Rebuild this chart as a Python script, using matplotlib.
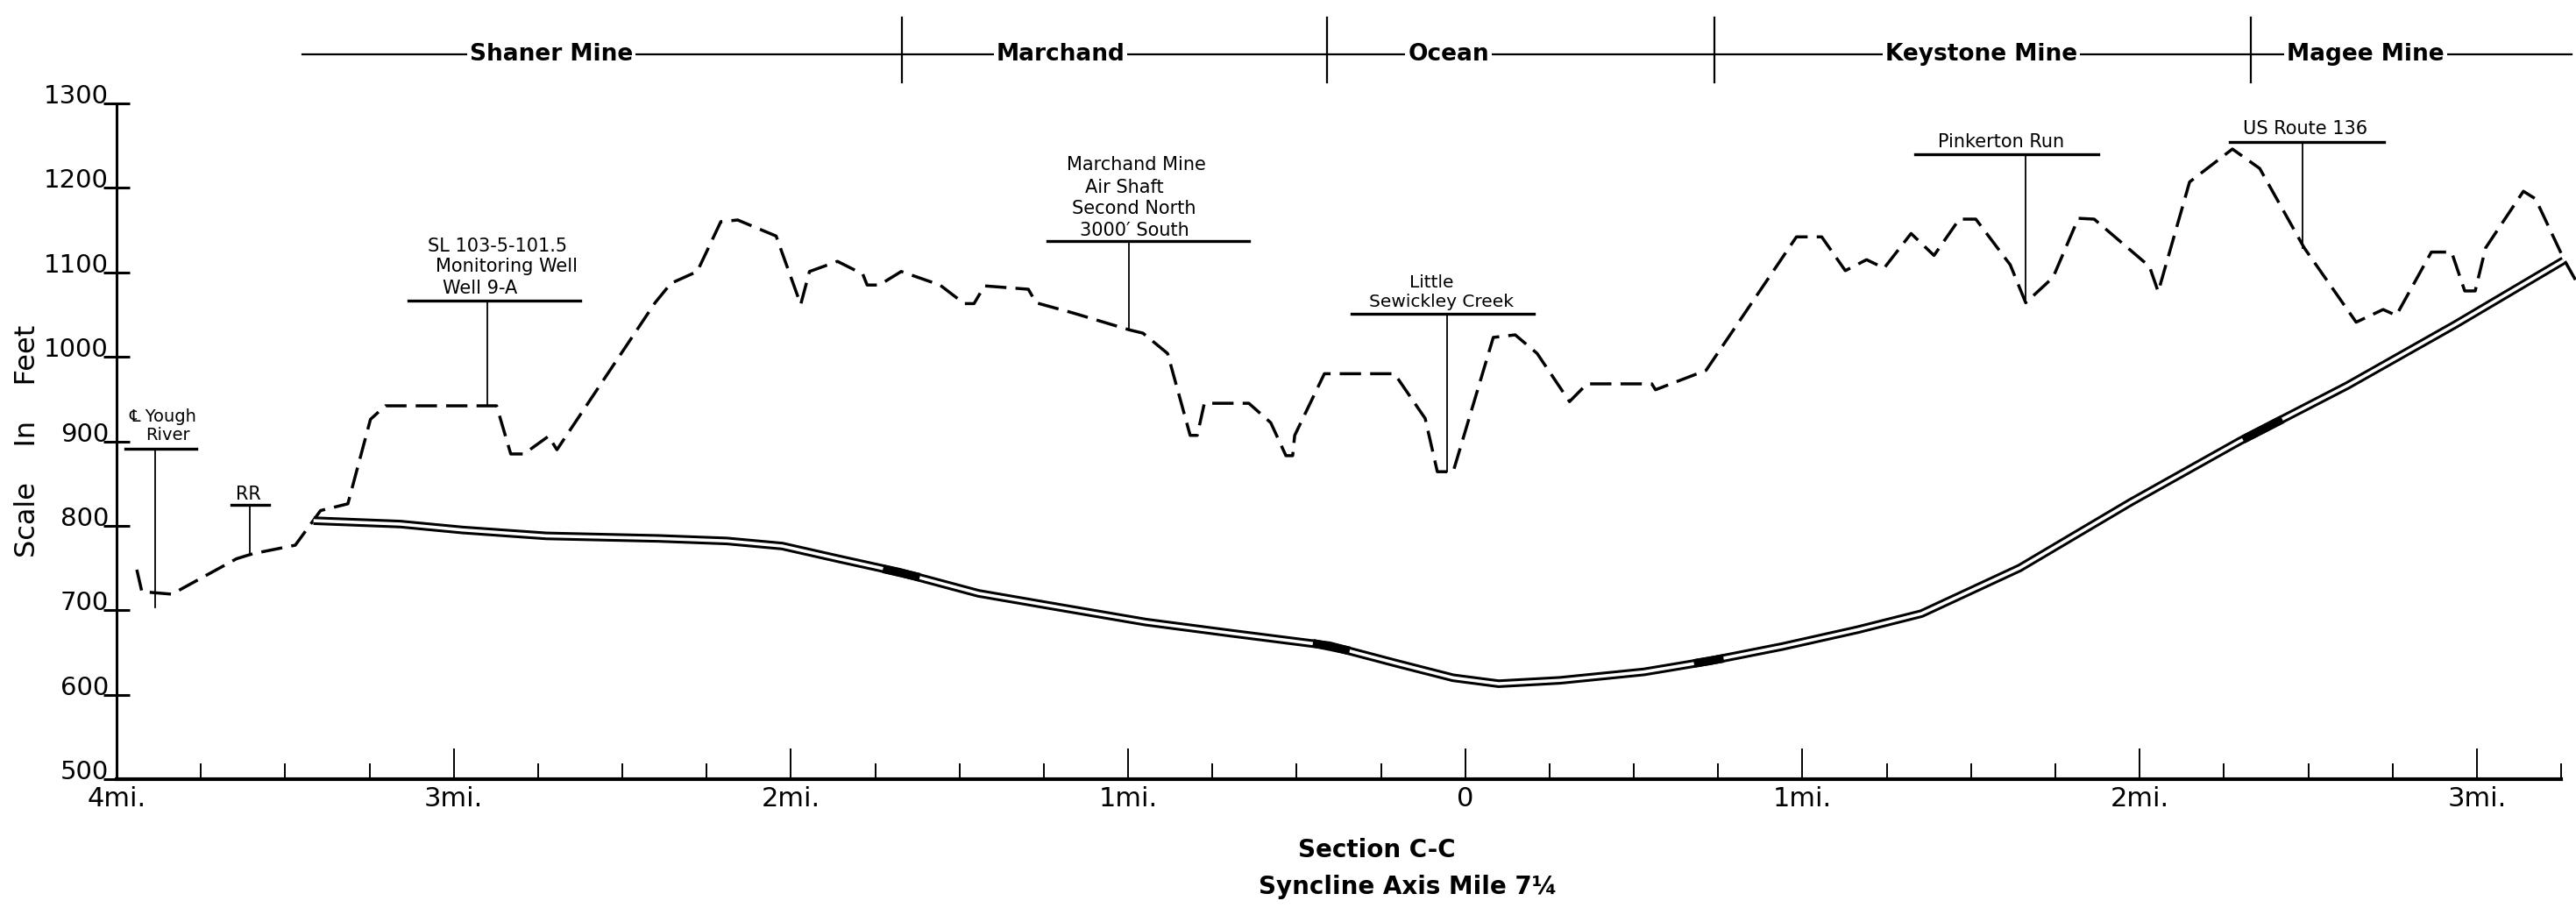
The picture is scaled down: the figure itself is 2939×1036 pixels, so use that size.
import matplotlib
matplotlib.use("Agg")
import matplotlib.pyplot as plt
from matplotlib.ticker import MultipleLocator

plt.rcParams['font.family'] = ['DejaVu Sans']

# ground surface along section C-C (miles from syncline axis, west negative; elevation in feet)
ground_mi = [-3.940, -3.925, -3.836, -3.644, -3.595, -3.470, -3.395, -3.314, -3.247, -3.203,
             -2.873, -2.831, -2.792, -2.719, -2.694, -2.403, -2.356, -2.278, -2.208, -2.158,
             -2.044, -1.971, -1.945, -1.862, -1.787, -1.774, -1.738, -1.673, -1.558, -1.486,
             -1.457, -1.426, -1.296, -1.273, -1.164, -0.997, -0.956, -0.883, -0.816, -0.795,
             -0.774, -0.642, -0.577, -0.532, -0.512, -0.506, -0.418, -0.210, -0.119, -0.083,
             -0.036, 0.083, 0.148, 0.213, 0.309, 0.361, 0.553, 0.564, 0.714, 0.982,
             1.057, 1.127, 1.190, 1.242, 1.322, 1.390, 1.465, 1.514, 1.616, 1.662,
             1.743, 1.818, 1.865, 2.029, 2.055, 2.148, 2.275, 2.356, 2.488, 2.642,
             2.722, 2.761, 2.865, 2.925, 2.964, 2.995, 3.026, 3.138, 3.174, 3.260, 3.294]
ground_ft = [748, 722, 719, 761, 767, 777, 818, 826, 926, 942,
             942, 885, 885, 906, 890, 1064, 1087, 1101, 1160, 1162,
             1143, 1062, 1101, 1113, 1098, 1085, 1085, 1101, 1085, 1063,
             1063, 1084, 1080, 1064, 1052, 1032, 1028, 1004, 907, 907,
             945, 945, 922, 883, 883, 907, 980, 980, 927, 864,
             864, 1023, 1026, 1004, 947, 968, 968, 961, 984, 1142,
             1142, 1102, 1115, 1105, 1146, 1120, 1163, 1163, 1109, 1064,
             1094, 1164, 1163, 1107, 1077, 1207, 1246, 1223, 1129, 1041,
             1056, 1049, 1124, 1124, 1078, 1078, 1129, 1196, 1187, 1114, 1090]

# coal seam (drawn as a double line)
seam_mi = [-3.416, -3.158, -2.974, -2.725, -2.392, -2.190, -2.026, -1.860, -1.678, -1.444,
           -1.197, -0.948, -0.699, -0.403, -0.203, -0.036, 0.099, 0.281, 0.530, 0.725,
           0.940, 1.164, 1.353, 1.644, 1.974, 2.296, 2.616, 2.935, 3.257]
seam_ft = [806, 802, 795, 788, 785, 782, 776, 761, 745, 720,
           703, 686, 673, 658, 637, 620, 613, 617, 627, 640,
           657, 677, 696, 750, 828, 900, 966, 1038, 1114]

# solid black patches on the seam
patch_mi = [(-1.727, -1.618), (-0.452, -0.343), (0.678, 0.766), (2.306, 2.423)]
patch_ft = [(749, 739), (661, 652), (637, 643), (902, 926)]

# mines along the top
mine_names = ["Shaner Mine", "Marchand", "Ocean", "Keystone Mine", "Magee Mine"]
mine_label_mi = [-2.71, -1.20, -0.05, 1.53, 2.67]
mine_bounds_mi = [-1.67, -0.41, 0.74, 2.33]

# labelled features with leader lines
feature_text = [["\u2104 Yough", "River"],
                ["RR"],
                ["SL 103-5-101.5", "Monitoring Well", "Well 9-A"],
                ["Marchand Mine", "Air Shaft", "Second North", "3000\u2032 South"],
                ["Little", "Sewickley Creek"],
                ["Pinkerton Run"],
                ["US Route 136"]]
feature_mi = [-3.886, -3.605, -2.901, -0.997, -0.055, 1.662, 2.483]
feature_bar_ft = [891, 825, 1067, 1137, 1051, 1240, 1254]
feature_end_ft = [703, 767, 943, 1032, 864, 1064, 1129]

x_ticks = [-4, -3, -2, -1, 0, 1, 2, 3]
x_labels = ["4mi.", "3mi.", "2mi.", "1mi.", "0", "1mi.", "2mi.", "3mi."]
y_ticks = [500, 600, 700, 800, 900, 1000, 1100, 1200, 1300]

# layout of the labels (bar extent, text line centres)
bar_extent = [(-3.974, -3.764), (-3.66, -3.548), (-3.135, -2.626), (-1.239, -0.642),
              (-0.338, 0.203), (1.335, 1.878), (2.268, 2.725)]
text_pos = [[(-3.862, 929), (-3.849, 907)],
            [(-3.61, 837)],
            [(-2.870, 1131), (-2.844, 1107), (-2.922, 1081)],
            [(-0.977, 1227), (-1.010, 1200), (-0.984, 1175), (-0.982, 1150)],
            [(-0.099, 1088), (-0.070, 1065)],
            [(1.590, 1254)],
            [(2.491, 1270)]]
text_size = [14, 15, 15, 15, 14.5, 15, 15]

fig = plt.figure(figsize=(29.39, 10.36), dpi=100)
ax = fig.add_axes([133 / 2939, 147 / 1036, 2806 / 2939, 771 / 1036])
ax.set_xlim(-4, 3.294)
ax.set_ylim(500, 1300)

# ground surface
ax.plot(ground_mi, ground_ft, color='black', lw=2.5, linestyle=(0, (7, 3)), clip_on=False)

# coal seam
ax.plot(seam_mi, seam_ft, color='black', lw=7, solid_capstyle='butt', solid_joinstyle='round')
ax.plot(seam_mi, seam_ft, color='white', lw=2.6, solid_capstyle='butt', solid_joinstyle='round')
for (a, b), (fa, fb) in zip(patch_mi, patch_ft):
    ax.plot([a, b], [fa, fb], color='black', lw=7, solid_capstyle='butt')

# leader lines and labels
for i in range(len(feature_mi)):
    x0, x1 = bar_extent[i]
    ax.plot([x0, x1], [feature_bar_ft[i], feature_bar_ft[i]], color='black', lw=2.4)
    ax.plot([feature_mi[i], feature_mi[i]], [feature_bar_ft[i], feature_end_ft[i]],
            color='black', lw=1.3)
    for line, (tx, ty) in zip(feature_text[i], text_pos[i]):
        ax.text(tx, ty, line, ha='center', va='center', fontsize=text_size[i])

# mine bar along the top
bar_ft = 1358
ax.plot([-3.45, 3.28], [bar_ft, bar_ft], color='black', lw=1.6, clip_on=False)
for b in mine_bounds_mi:
    ax.plot([b, b], [1325, 1402], color='black', lw=1.6, clip_on=False)
for name, m in zip(mine_names, mine_label_mi):
    ax.text(m, bar_ft, name, ha='center', va='center', fontsize=19, fontweight='bold',
            bbox=dict(facecolor='white', edgecolor='none', pad=2))

# axes
ax.spines['top'].set_visible(False)
ax.spines['right'].set_visible(False)
ax.spines['left'].set_linewidth(2.2)
ax.spines['bottom'].set_linewidth(3)
ax.spines['bottom'].set_bounds(-4, 3.25)

ax.set_xticks(x_ticks)
ax.set_xticklabels(x_labels, fontsize=22)
ax.xaxis.set_minor_locator(MultipleLocator(0.25))
ax.tick_params(axis='x', which='major', direction='in', length=25, width=1.4, pad=6)
ax.tick_params(axis='x', which='minor', direction='in', length=13, width=1.4)

ax.set_yticks(y_ticks)
ax.set_yticklabels([str(v) for v in y_ticks], fontsize=21)
ax.tick_params(axis='y', which='major', direction='inout', length=21.6, width=2.2, pad=-4.3)
for lab in ax.get_yticklabels():
    lab.set_va('baseline')

ax.set_ylabel("Scale    In    Feet", fontsize=23)
ax.yaxis.set_label_coords(-0.0305, 0.5)

fig.text(1571 / 2939, 1 - 970 / 1036, "Section C-C", ha='center', va='center',
         fontsize=20, fontweight='bold')
fig.text(1606 / 2939, 1 - 1012 / 1036, "Syncline Axis Mile 7\u00bc", ha='center', va='center',
         fontsize=20, fontweight='bold')

fig.savefig('out.png', dpi=100)
